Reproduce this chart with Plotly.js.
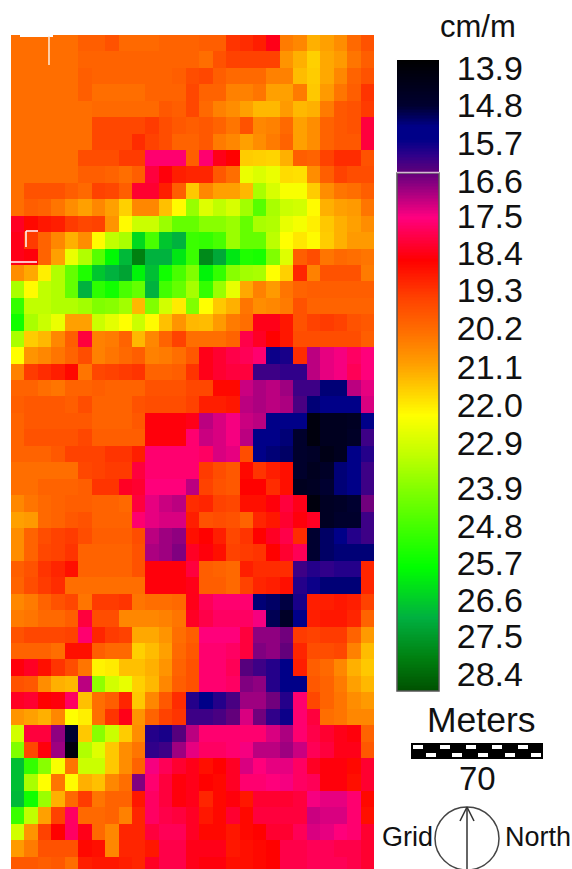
<!DOCTYPE html>
<html>
<head>
<meta charset="utf-8">
<script src="https://cdn.plot.ly/plotly-3.0.1.min.js"></script>
<style>html,body{margin:0;padding:0;background:#fff;overflow:hidden}</style>
</head>
<body>
<div id="chart" style="width:572px;height:869px"></div>
<script>
var W=572,H=869;
function rep(v,n){var a=[];for(var i=0;i<n;i++)a.push(v);return a;}
var row00=[].concat(rep(20.2,5),[19.9,19.9,19.7,20.1,20.1,20.1,20,20,20,19.9,19.9,19.2,19.1,18.9,18.3,20.4,20.6,21.2,21,20.7,20.1,19.7]);
var row01=[].concat(rep(20.2,5),rep(20,9),[20.2,19.7,19.4,19.4,19.4,19.4,20.8,21.2,21.6,21.1,20.9,20.3,19.9]);
var row02=[].concat(rep(20.2,5),[19.9],rep(20,6),[19.9,19.6,19.5,19.9,20.1,20.1,20.1,20.5,20.5,21.35,21.55,21.1,20.6,20,19.7]);
var row03=[].concat(rep(20.2,5),[19.9,20.2,20.2,20.2,20.2,20,20,20,19.5,20,20,20.5,20.5,20.3,21,21,20.4,21.5,20.9,20.3,19.9,19.2]);
var row04=[].concat(rep(20.2,6),rep(20.1,5),[19.8,19.9,19.5,20.1,20.5,20.7,21,21.3,21.3,20.9,21.3,21.2,20.4,19.8,19.7,19.3]);
var row05=[].concat(rep(20.2,6),rep(19.5,4),[19.3,19.6,19.8,19.9,19.8,20,20.3,19.7,20.6,20.5,20.1,21,20.7,20,19.8,19.7,18]);
var row06=[].concat(rep(20.2,6),[19.5,19.5,19.5,19.1,19.4,19.6,20,20,19.8,20.4,20.6,21,20.7,20.4,20,21,20.7,20,19.8,19.8,18]);
var row07=[].concat(rep(20.2,5),[19.6,19.6,19.6,19.3,19.3,17.6,17.6,17.6,19.9,17.6,18.3,18.5,21.55,21.6,21.65,21.2,19.9,20,19.4,19.1,19.1,19.7]);
var row08=[].concat(rep(20.2,5),[19.9,19.9,20,20.2,19.9,18,18.4,18.9,19,19,19.8,20.2,22.5,22.75,22.5,21.75,21.8,20.7,19.9,19.4,19.6,19.6]);
var row09=[20.2,19.7,19.7,19.7,19.9,20.1,19.4,19.5,19.9,18.1,18.1,18.9,19.9,21.5,20.6,21,21,21.3,23.45,22.8,22.3,22.3,21.55,20.7,20.3,20.2,19.9];
var row10=[20.2,19.9,20,20.3,20.7,21,20.6,21,21.6,20.6,20.6,21.4,22.15,23.7,22.7,23.15,22.8,23.55,24.6,23.45,23,22.9,22.15,21.2,21,20.9,20.3];
var row11=[18.2,18.6,18.8,18.9,19.3,19.5,19.4,20.8,22.15,23,23,23.65,24.4,24.4,23.9,23.9,23.65,24.4,23.45,23.35,22.55,22.35,22,21.5,21.2,21,20.7];
var row12=[18.3,19.3,20,20.6,21.2,20.7,22.15,23.15,23.45,26.4,24.8,26.7,27,25,25.1,24.8,23.65,24.4,24.4,23.2,22.2,21.9,22.15,21.55,21.2,20.9,20.9];
var row13=[18.3,18.4,20,21,22.5,23.35,24.6,25.9,26.9,28,27,27,26.2,25,27.8,27.2,26.2,25.4,25.5,24,22.7,19.9,19.6,20.3,20.1,20.2,20.3];
var row14=[20.7,21.1,22,23.35,24.4,25.4,26.7,27,27.3,26,26.8,25.6,24.8,24,26,25.1,23.9,23.55,23.45,22.2,21.6,19,20.5,19.7,19.7,19.7,20.4];
var row15=[23.45,22.15,23.15,23.35,24.4,27,25.2,25.6,24.8,24.4,27,24.9,24.4,23.5,25.1,23.65,22.55,21.1,20.5,20.9,20.3,20,19.9,19.9,19.9,19.9,19.9];
var row16=[25.1,23.15,23.15,23.35,23.35,23.55,24,23.9,23.55,21.3,24,22.9,21.95,24,22.2,21.5,21.2,20.3,20.7,20.6,20.4,19.7,20,20,20,20,20];
var row17=[25.6,23.45,23,22.5,21,21,23,22.6,22.2,23,22.15,21.4,20.8,21.3,21.35,20.9,20.4,20.2,18.3,18.3,18.8,19.7,19.4,19.3,19.4,19.7,19.8];
var row18=[23.45,21.55,21.3,20.6,19.9,18,20.5,20.4,20,21.3,20.6,20,19.4,20.2,20.2,20.2,20,17.9,18.2,18.5,18.8,19.6,19.6,19.6,19.6,19.6,19.9];
var row19=[22.2,20.8,20.6,20.3,20,19.6,20.5,20.3,20.1,19.9,20.5,20.4,20.2,19.8,18.3,18.1,17.9,17.8,17.6,15.7,15.8,19.1,17,17.3,17.4,17.7,17.5];
var row20=[20.5,19.3,19.1,18.9,18.6,20.3,19.5,19.4,19.3,19.2,20,20,19.9,19.2,18.3,18.1,18,18,16.1,16.1,16,16,17,17.3,17.4,17.8,17.5];
var row21=[20,20,20.2,20.3,20,20,19.9,20,20,20,19.7,19.7,19.7,19.5,19.5,18.6,18.6,17.1,16.9,17,16.8,16.1,16.1,15.2,15.2,17,17.3];
var row22=[19.9,19.8,19.8,19.8,19.9,19.6,20,20,20,19.7,19.6,19.6,19.6,19.4,18.9,18.9,18.8,17,16.9,17,16.9,16.2,15.2,15.3,15.3,15.3,17.2];
var row23=[20,19.8,19.8,19.8,19.8,19.8,20,20,20,19.8,18.4,18.4,18.4,18.3,17,17.2,17.4,17.1,17,15.3,15.3,15.3,14,14.4,14.4,14.5,15.6];
var row24=[20,19.7,19.7,19.7,19.7,19.5,19.9,19.9,19.9,19.9,18.4,18.4,18.4,17.6,17.1,17.2,17.4,17,15.3,15.3,15.2,14.7,14,14.4,14.4,14.6,16.1];
var row25=[20,20,20,19.8,19.4,19.4,19.4,19.2,19.2,18.9,17.6,17.6,17.6,17.6,17.7,17.2,17.3,19.6,15.3,15.2,15.1,14.7,14.6,14.2,14.4,15.3,15.9];
var row26=[].concat(rep(20.2,5),[19.5,19.4,19.3,19.3,18,17.6,17.6,17.6,17.6,19.3,19.6,19.8,18.6,19.2,18.9,18.7,14.7,14.4,14.6,15.2,15.3,16.1]);
var row27=[20.2,20.2,20,20,20,19.9,19.2,19.2,18.2,18.1,17.5,17.5,17.5,17,19.4,19.7,19.8,18.5,18.5,19.1,18.7,14.4,14.5,14.8,15.2,15.6,16.1];
var row28=[20.6,20.3,20.1,20,19.9,19.9,20,20,20.1,18,17.3,17.1,17,19.1,19,19.4,19.5,18.7,18.7,18.4,18,18.3,14,14.5,14.6,14.8,16.5];
var row29=[21,20.9,20.1,20,19.8,19.7,20,20,20,17.6,17.3,17.2,17.2,18.9,19.7,19.6,19.7,20,19,18.8,18.1,18.4,18.2,14.5,14.7,14.7,16.1];
var row30=[20.7,20,19.6,19.4,19.3,19.6,19.9,19.9,19.9,19.6,17,16.8,16.7,18.7,18.5,18.9,19.5,19.2,18.5,18.2,17.9,19.1,14.8,15.1,15.6,15.9,16.1];
var row31=[20.7,20,19.5,19.4,19.2,20,20,20,20,19.7,16.9,16.8,16.6,18.2,18.4,18.7,19.4,19.3,19.2,18.5,18.1,17.8,14.8,15.1,15.2,15.2,15.2];
var row32=[19.9,19.7,19.2,19,18.7,20,20,20,20,19.7,18.4,18.4,18.4,18,19.9,20,20.1,18.9,19.1,19.1,19.1,16.1,15.9,16,15.9,15.9,19];
var row33=[20,19.6,19.3,19.1,20.2,20.2,20.2,20.2,20.2,20.2,18.4,18.4,18.4,18.3,19.9,19.9,20.1,19.4,19,18.9,18.7,15.9,15.7,15.2,15.2,15.2,19];
var row34=[20.6,20.4,20,19.7,19.5,20.3,19.3,19.3,19.2,20.3,20.2,20.2,20.1,18.3,17.8,17.6,17.6,17.6,15.2,15.1,14.9,15.8,18.9,18.9,18.8,18.9,19.4];
var row35=[20.4,20.3,20.1,20.1,19.9,18,19.6,19.6,20.6,20.6,20.6,20.5,20.3,18.2,17.9,17.7,17.7,17.7,17.4,15,14.6,15.4,18.9,18.8,18.8,19,20];
var row36=[19.7,19.5,19.5,19.5,19.4,17.6,19,19.3,19.4,21.1,21.1,20.8,20.2,19.9,17.5,17.5,17.5,18,16.7,16.7,16.5,19.3,19.4,19.3,19.3,20,20.9];
var row37=[20,20,20,20.2,18.7,18.7,19.9,20.1,20.1,21.6,21.35,21,20.1,19.8,17.6,17.6,17.7,18,16.6,16.7,16.4,19,19.6,19.6,19.5,20.5,21.35];
var row38=[18.4,18.2,18.7,19.2,19.6,20.3,22.05,21.95,21.4,21.4,21.2,20.8,20,19.7,17.6,17.6,17.8,16.3,16.1,15.9,15.5,18.9,19.9,20.1,20.6,21.2,21.5];
var row39=[19.7,19.8,20.7,21.2,21.3,17,23.8,22.9,22.55,21.6,21.3,20.6,19.9,19.7,17.6,17.6,17.7,16.6,16.7,15.9,15.5,15.5,19.8,20,20.4,21,21.3];
var row40=[18.2,18.1,18.5,18.4,17.7,21.4,20.2,19.9,19,21.5,20.6,19.8,19.1,15.9,15.4,15.9,16.2,16.8,16.8,16.5,15.9,17.6,19.5,20,20.3,20.7,20.9];
var row41=[20.8,21,21.2,20.6,22.2,22,20.2,19.2,18.3,20.8,20,19.4,19.2,16.1,16.1,16.2,16.4,17.2,16.5,16,15.7,17.6,18,20.2,20.3,20.6,20.6];
var row42=[22.9,18,18,16.7,14.8,21.5,23.9,23,21.55,20.7,15.9,15.8,16.3,17,17.6,17.6,17.6,17.6,17.6,17.2,16.9,17.6,17.9,18.1,18.3,18.4,20];
var row43=[24,19.5,18.4,16.8,14,23.35,22.7,21.5,20.7,20.3,16,16.1,16.8,17.3,17.7,17.7,17.6,17.4,17,17,16.8,17.1,17.8,18,18.3,18.3,19.8];
var row44=[26.8,25.1,23.9,22.3,20.3,23,23,21.5,20.7,20,17.4,17.8,18.1,18.3,18.7,18.5,18.2,17.2,17.5,17.3,17.3,17.7,18.2,18.4,18.4,18.6,18.1];
var row45=[26.8,23.45,22.2,20.3,22.15,21.2,21.4,20.6,20.2,16.6,17.6,18,18.4,18.3,18.5,18.6,18.2,17.6,17.6,17.5,17.4,17.7,17.8,18.4,18.4,18.7,18.1];
var row46=[26.9,25.6,23.65,21.2,20.1,19.3,20.3,20,20,18.8,17.7,18,18.4,18.3,19,18.6,18.4,18.8,18.1,18.1,18.1,18,17.4,17.3,17.3,17.6,18.6];
var row47=[25,23.15,21,19.4,17.7,20.1,20.1,20,20.5,19,17.7,17.9,18,18.2,18.8,18.6,18.1,18.6,18,18,18,18,17.1,17.2,17.2,17.6,18.7];
var row48=[22.9,20.8,19.4,18.5,17.7,18.3,20.1,20.6,19,19,18,17.8,17.8,18.2,18.6,18.6,18.8,18.6,18.5,18.1,18.1,17.8,17.2,17.3,17.5,17.6,18.1];
var row49=[20.9,20.4,19.7,19.7,19.7,18.6,18.7,20.6,19,19,18.8,17.9,17.9,18.3,18.3,18.3,18.8,18.7,18.6,18.5,17.9,17.9,17.8,17.8,17.9,17.9,18.1];
var row50=[19.8,19.8,19.9,19.8,20.2,18.9,18.8,18.8,18.9,19,18.2,17.9,17.9,18.3,18.4,18.4,18.7,18.7,18.6,18.5,17.9,17.9,17.8,17.8,17.8,17.9,18.1];
var zRows=[row00,row01,row02,row03,row04,row05,row06,row07,row08,row09,row10,row11,row12,row13,row14,row15,row16,row17,row18,row19,row20,row21,row22,row23,row24,row25,row26,row27,row28,row29,row30,row31,row32,row33,row34,row35,row36,row37,row38,row39,row40,row41,row42,row43,row44,row45,row46,row47,row48,row49,row50];

var tickLabels=["13.9","14.8","15.7","16.6","17.5","18.4","19.3","20.2","21.1","22.0","22.9","23.9","24.8","25.7","26.6","27.5","28.4"];
var tickPlaces=[13.89,14.78,15.69,16.6,17.44,18.32,19.2,20.11,21.05,21.96,22.87,23.94,24.85,25.74,26.62,27.48,28.39];
var zMin=13.7,zMax=28.8;
var scaleValues=[13.7,14.8,15.3,15.6,16.0,16.38,16.6,17.46,18.49,19.37,20.16,21.0,21.6,22.2,23.15,24.0,25.83,27.03,28.0,28.8];
var scaleColors=["#000000","#000030","#000088","#000088","#30008a","#60007a","#800080","#ff0080","#ff0000","#ff4000","#ff6c00","#ffa000","#ffd000","#ffff00","#c0ff00","#80ff00","#00ff00","#00b040","#008010","#005000"];
var colorscale=scaleValues.map(function(v,i){return [(v-zMin)/(zMax-zMin),scaleColors[i]];});

// the legend bar is the colour scale itself, sampled from its lower to its upper limit
var rampY=[],rampZ=[];
for(var k=0;k<=420;k++){var rv=zMin+(zMax-zMin)*k/420;rampY.push(rv);rampZ.push([rv]);}

function px(x){return x/W;}
function py(y){return 1-y/H;}
function rect(x0,y0,x1,y1,fill){return {type:'rect',xref:'paper',yref:'paper',x0:px(x0),x1:px(x1),y0:py(y0),y1:py(y1),fillcolor:fill,line:{width:0},layer:'above'};}
function seg(x0,y0,x1,y1,color,w){return {type:'line',xref:'paper',yref:'paper',x0:px(x0),x1:px(x1),y0:py(y0),y1:py(y1),line:{color:color,width:w},layer:'above'};}
function label(t,x,y,size){return {text:t,x:px(x),y:py(y),xref:'paper',yref:'paper',showarrow:false,xanchor:'center',yanchor:'middle',font:{family:'"Liberation Sans",Arial,sans-serif',size:size,color:'#111'}};}

var shapes=[
 {type:'rect',xref:'paper',yref:'paper',x0:px(397),x1:px(439),y0:py(173),y1:py(691),fillcolor:'rgba(0,0,0,0)',line:{color:'#555',width:1.5},layer:'above'},
 seg(397,172.5,439,172.5,'#d8b8d8',1.5),
 rect(20,34,53,37,'#ffffff'),
 seg(49,36,49,65,'#ffeedd',1.5),
 seg(26,231,26,247,'#ffffff',1.5),
 seg(26,231,38,231,'#ffffff',1.5),
 seg(11,262,37,262,'#ffffff',1.5),
 rect(411,743,543,759,'#000000'),
 {type:'circle',xref:'paper',yref:'paper',x0:px(435),x1:px(499),y0:py(807),y1:py(870),line:{color:'#444',width:1.5},layer:'above'},
 seg(467,807,467,869,'#333',1.5),
 seg(467,807,460,821,'#333',1.5),
 seg(467,807,474,821,'#333',1.5)
];
var dashTop=[413,440,466,492,518], dashBottom=[426,452,478,505,531];
dashTop.forEach(function(x){shapes.push(rect(x,745,x+10,749,'#ffffff'));});
dashBottom.forEach(function(x){shapes.push(rect(x,753,x+10,757,'#ffffff'));});

var mapTrace={type:'heatmap',z:zRows,zmin:zMin,zmax:zMax,colorscale:colorscale,zsmooth:false,showscale:false,hoverinfo:'skip',xaxis:'x',yaxis:'y'};
var barTrace={type:'heatmap',z:rampZ,y:rampY,x:[0],zmin:zMin,zmax:zMax,colorscale:colorscale,zsmooth:false,showscale:false,hoverinfo:'skip',xaxis:'x2',yaxis:'y2'};
var layout={
 width:W,height:H,margin:{l:0,r:0,t:0,b:0},paper_bgcolor:'#fff',plot_bgcolor:'#fff',
 xaxis:{domain:[px(11),px(374)],range:[-0.5,26.5],visible:false,fixedrange:true},
 yaxis:{domain:[0,py(35)],range:[50.23,-0.5],visible:false,fixedrange:true},
 xaxis2:{domain:[px(397),px(439)],range:[-0.5,0.5],visible:false,fixedrange:true,anchor:'y2'},
 yaxis2:{domain:[py(691),py(60)],range:[zMax,zMin],anchor:'x2',side:'right',fixedrange:true,showgrid:false,zeroline:false,showline:false,
  tickmode:'array',tickvals:tickPlaces,ticktext:tickLabels,ticks:'outside',ticklen:10,tickwidth:0,tickcolor:'rgba(0,0,0,0)',
  tickfont:{family:'"Liberation Sans",Arial,sans-serif',size:34,color:'#111'}},
 shapes:shapes,
 annotations:[
  label('cm/m',478,26,31),
  label('Meters',481,720,35.5),
  label('70',477,778,33),
  label('Grid',407,837,27),
  label('North',538,837,27)
 ],
 showlegend:false
};
Plotly.newPlot('chart',[mapTrace,barTrace],layout,{displayModeBar:false,staticPlot:true});
</script>
</body>
</html>
